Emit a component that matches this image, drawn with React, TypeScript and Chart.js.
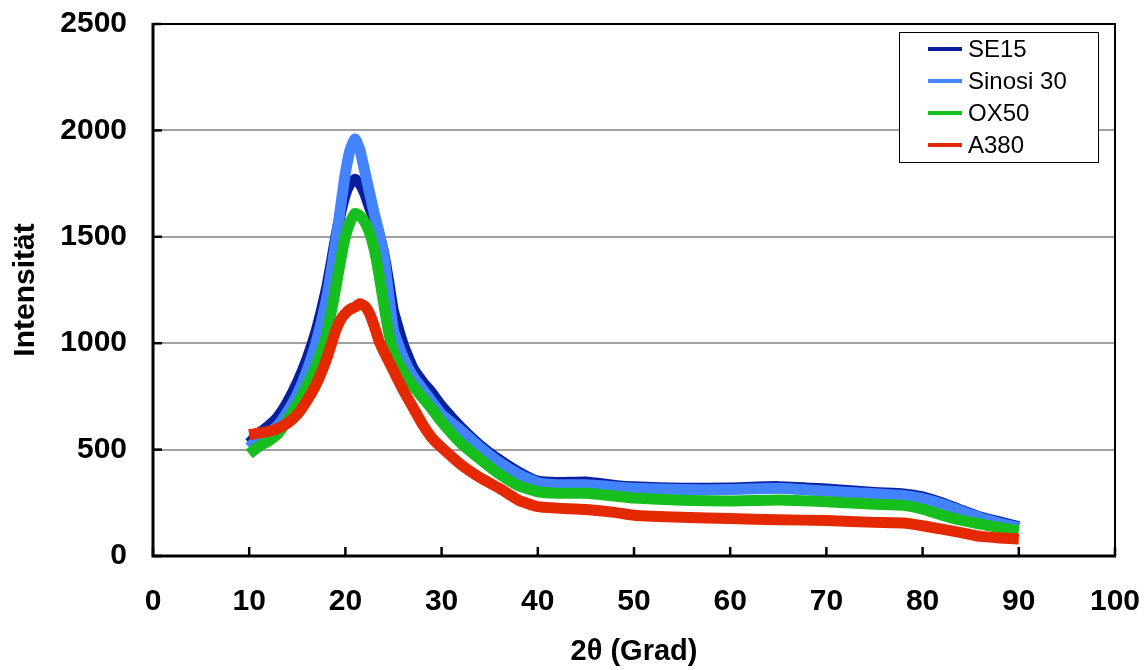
import React, { useEffect, useRef } from "react";
import { Chart, registerables } from "chart.js";

Chart.register(...registerables);

// 2θ positions (Grad)
const twoTheta = [
  10, 11, 12, 13, 14, 15, 16, 17, 18, 18.5, 19, 19.5, 20, 20.5, 21, 21.5, 22, 22.5,
  23, 23.5, 24, 24.5, 25, 26, 27, 28, 29, 30, 32, 34, 36, 38, 40, 42, 45, 48, 50,
  55, 60, 65, 70, 75, 78, 80, 82, 84, 86, 88, 90,
];

const se15 = [
  530, 575, 610, 655, 725, 815, 925, 1065, 1250, 1370, 1500, 1610, 1700, 1750, 1770, 1750, 1705, 1640,
  1580, 1510, 1420, 1290, 1150, 995, 885, 820, 765, 705, 605, 520, 452, 395, 352, 345, 348, 332, 325,
  318, 320, 326, 315, 298, 292, 278, 250, 216, 183, 160, 138,
];

const sinosi30 = [
  510, 555, 580, 615, 680, 760, 870, 1010, 1200, 1330, 1480, 1640, 1800, 1910, 1960, 1910, 1810, 1710,
  1610, 1520, 1410, 1230, 1060, 935, 845, 785, 725, 665, 590, 510, 440, 385, 345, 335, 335, 325, 318,
  312, 312, 318, 305, 292, 285, 270, 245, 212, 180, 155, 134,
];

const ox50 = [
  480, 515, 540, 575, 640, 715, 800, 900, 1030, 1140, 1260, 1390, 1500, 1570, 1610, 1600, 1570, 1520,
  1440, 1320, 1180, 1050, 960, 870, 800, 745, 690, 630, 530, 455, 385, 330, 302, 295, 295, 282, 272,
  262, 258, 263, 255, 243, 238, 220, 192, 168, 150, 133, 118,
];

const a380 = [
  570, 578, 585, 600, 625, 665, 730, 810, 920, 990, 1060, 1110, 1140, 1160, 1170, 1185, 1175, 1140,
  1080, 1010, 960, 915, 870, 780, 700, 620, 555, 510, 430, 368, 318, 262, 232, 225, 218, 205, 192,
  182, 176, 170, 167, 158, 155, 142, 126, 110, 92, 85, 80,
];

const seriesNames = ["SE15", "Sinosi 30", "OX50", "A380"];
const seriesColors = ["#0a1f9e", "#4383ff", "#16be1e", "#e42800"];
const seriesValues = [se15, sinosi30, ox50, a380];

const xTicks = [0, 10, 20, 30, 40, 50, 60, 70, 80, 90, 100];
const yTicks = [0, 500, 1000, 1500, 2000, 2500];

const FONT = '"Liberation Sans", Arial, Helvetica, sans-serif';

const framePlugin = {
  id: "frameAndLegend",
  afterDraw(chart: any) {
    const { ctx, chartArea, scales } = chart;
    const { left, right, top, bottom } = chartArea;
    const xs = scales.x;
    const ys = scales.y;
    ctx.save();
    ctx.strokeStyle = "#000";
    ctx.lineCap = "butt";

    // top and right frame
    ctx.lineWidth = 2;
    ctx.beginPath();
    ctx.moveTo(left, top);
    ctx.lineTo(right, top);
    ctx.lineTo(right, bottom);
    ctx.stroke();

    // inward ticks
    ctx.lineWidth = 2.5;
    yTicks.forEach((v) => {
      const py = ys.getPixelForValue(v);
      ctx.beginPath();
      ctx.moveTo(left, py);
      ctx.lineTo(left + 9, py);
      ctx.stroke();
    });
    xTicks.forEach((v) => {
      const px = xs.getPixelForValue(v);
      ctx.beginPath();
      ctx.moveTo(px, bottom);
      ctx.lineTo(px, bottom - 9);
      ctx.stroke();
    });

    // axes
    ctx.lineWidth = 3;
    ctx.beginPath();
    ctx.moveTo(left, top - 1);
    ctx.lineTo(left, bottom);
    ctx.lineTo(right + 1, bottom);
    ctx.stroke();

    // legend
    const lx = 899;
    const ly = 32;
    const lw = 199;
    const lh = 130;
    ctx.fillStyle = "#fff";
    ctx.fillRect(lx, ly, lw, lh);
    ctx.lineWidth = 1;
    ctx.strokeStyle = "#000";
    ctx.strokeRect(lx + 0.5, ly + 0.5, lw, lh);
    ctx.font = `24px ${FONT}`;
    ctx.textBaseline = "middle";
    ctx.textAlign = "left";
    seriesNames.forEach((name, i) => {
      const ry = 49 + i * 32;
      ctx.strokeStyle = seriesColors[i];
      ctx.lineWidth = 4;
      ctx.beginPath();
      ctx.moveTo(928, ry);
      ctx.lineTo(962, ry);
      ctx.stroke();
      ctx.fillStyle = "#000";
      ctx.fillText(name, 968, ry + 1);
    });
    ctx.restore();
  },
};

const zeroPadding = (scale: any) => {
  scale.paddingTop = 0;
  scale.paddingBottom = 0;
  scale.paddingLeft = 0;
  scale.paddingRight = 0;
};

export default function App() {
  const canvasRef = useRef<HTMLCanvasElement | null>(null);

  useEffect(() => {
    if (!canvasRef.current) return;
    const datasets = seriesNames.map((name, i) => ({
      label: name,
      data: twoTheta.map((t, j) => ({ x: t, y: seriesValues[i][j] })),
      borderColor: seriesColors[i],
      backgroundColor: seriesColors[i],
      borderWidth: 11,
      pointRadius: 0,
      tension: 0.15,
      fill: false,
      borderJoinStyle: "round" as const,
      borderCapStyle: "butt" as const,
      order: seriesNames.length - 1 - i,
    }));

    const chart = new Chart(canvasRef.current, {
      type: "line",
      data: { datasets },
      plugins: [framePlugin],
      options: {
        responsive: false,
        animation: false,
        devicePixelRatio: 1,
        layout: { padding: { left: 0, top: 24, right: 33, bottom: 0 } },
        plugins: {
          legend: { display: false },
          tooltip: { enabled: false },
        },
        scales: {
          x: {
            type: "linear",
            min: 0,
            max: 100,
            afterFit: (scale: any) => {
              scale.height = 114;
              zeroPadding(scale);
            },
            afterBuildTicks: (scale: any) => {
              scale.ticks = xTicks.map((v) => ({ value: v }));
            },
            grid: { display: false, drawTicks: false },
            border: { display: false },
            ticks: {
              color: "#000",
              padding: 28,
              maxRotation: 0,
              font: { family: FONT, size: 30, weight: "bold" },
              callback: (v: any) => String(v),
            },
            title: {
              display: true,
              text: "2θ (Grad)",
              color: "#000",
              font: { family: FONT, size: 29, weight: "bold" },
              padding: { top: 0, bottom: 1 },
            },
          },
          y: {
            type: "linear",
            min: 0,
            max: 2500,
            afterFit: (scale: any) => {
              scale.width = 153;
              zeroPadding(scale);
            },
            afterBuildTicks: (scale: any) => {
              scale.ticks = yTicks.map((v) => ({ value: v }));
            },
            grid: { color: "#a0a0a0", lineWidth: 2, drawTicks: false },
            border: { display: false },
            ticks: {
              color: "#000",
              padding: 26,
              font: { family: FONT, size: 30, weight: "bold" },
              callback: (v: any) => String(v),
            },
            title: {
              display: true,
              text: "Intensität",
              color: "#000",
              font: { family: FONT, size: 30, weight: "bold" },
              padding: { top: 8, bottom: 0 },
            },
          },
        },
      },
    });
    return () => chart.destroy();
  }, []);

  return (
    <div style={{ position: "fixed", left: 0, top: 0, width: 1148, height: 670, background: "#fff" }}>
      <canvas ref={canvasRef} width={1148} height={670} style={{ display: "block" }} />
    </div>
  );
}
